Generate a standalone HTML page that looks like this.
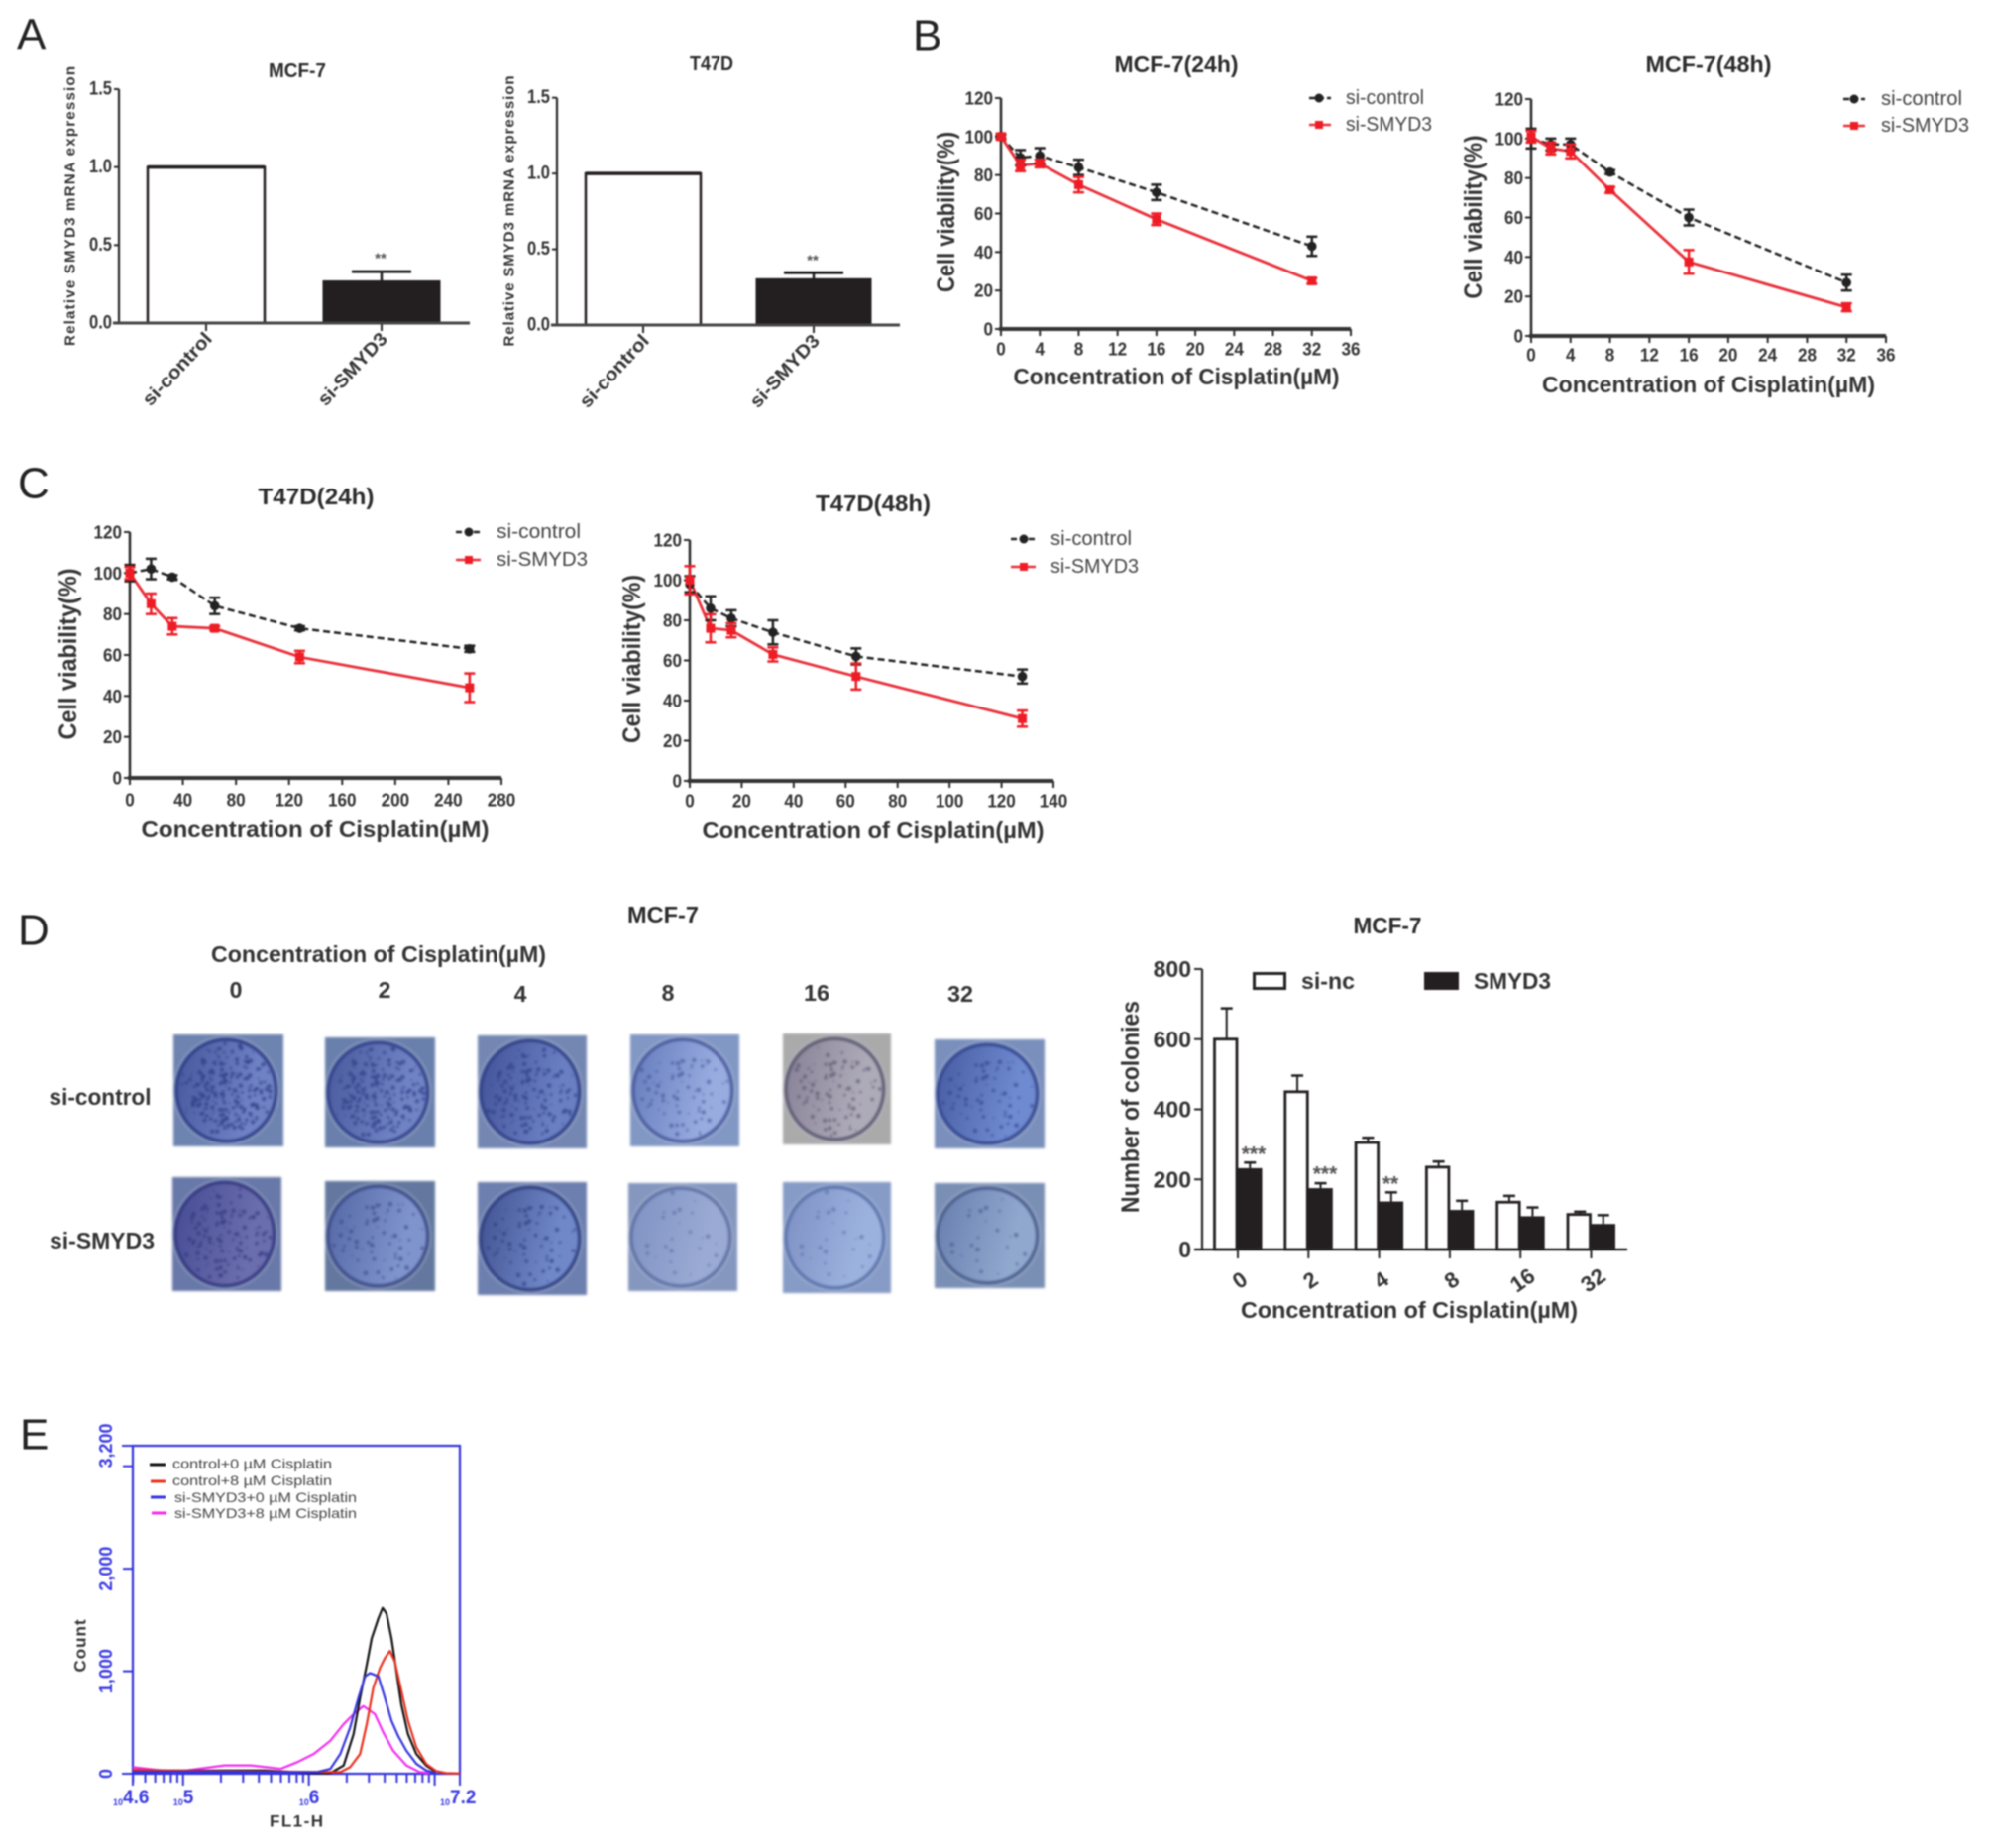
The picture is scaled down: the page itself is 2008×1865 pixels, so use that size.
<!DOCTYPE html>
<html lang="en">
<head>
<meta charset="utf-8">
<title>SMYD3 knockdown and cisplatin sensitivity figure</title>
<style>
html,body{margin:0;padding:0;background:#fff;}
svg{display:block;filter:blur(.8px);}
text{font-family:"Liberation Sans",sans-serif;dominant-baseline:central;fill:#333;}
.b{font-weight:bold;}
.m{text-anchor:middle;}
.e{text-anchor:end;}
.letter{font-size:44px;fill:#222;}
.title{font-size:23px;font-weight:bold;text-anchor:middle;fill:#2b2b2b;}
.axt{font-size:23px;font-weight:bold;text-anchor:middle;fill:#333;}
.ytl{font-size:25px;}
.leg{font-size:20px;fill:#444;}
.star{font-size:15px;fill:#555;text-anchor:middle;font-weight:bold;}
.starbig{font-size:21px;fill:#555;text-anchor:middle;font-weight:bold;}
.flowleg{font-size:14px;fill:#444;}
</style>
</head>
<body>
<svg id="figure" xmlns="http://www.w3.org/2000/svg" width="2008" height="1865" viewBox="0 0 2008 1865">
<rect x="0" y="0" width="2008" height="1865" fill="#fff"/>

<text class="letter" x="17" y="35">A</text>
<text class="letter" x="921" y="36">B</text>
<text class="letter" x="18" y="488">C</text>
<text class="letter" x="18" y="939">D</text>
<text class="letter" x="20" y="1448">E</text>

<!-- Panel A -->
<g id="a1">
  <text class="title" x="300" y="72" textLength="58" lengthAdjust="spacingAndGlyphs" style="font-size:20px">MCF-7</text>
  <text class="b m" font-size="15" transform="translate(71,208) rotate(-90)" textLength="282">Relative SMYD3 mRNA expression</text>
  <text class="star" x="384" y="261">**</text>
</g>
<g id="a2">
  <text class="title" x="718" y="65" textLength="44" lengthAdjust="spacingAndGlyphs" style="font-size:20px">T47D</text>
  <text class="b m" font-size="15" transform="translate(514,213) rotate(-90)" textLength="273">Relative SMYD3 mRNA expression</text>
  <text class="star" x="820" y="263">**</text>
</g>

<!-- Panel B -->
<g id="b1">
  <text class="title" x="1187" y="65" textLength="125" lengthAdjust="spacingAndGlyphs">MCF-7(24h)</text>
  <text class="axt" x="1187" y="380" textLength="329" lengthAdjust="spacingAndGlyphs">Concentration of Cisplatin(µM)</text>
  <text class="axt ytl" transform="translate(955,214) rotate(-90)" textLength="162" lengthAdjust="spacingAndGlyphs">Cell viability(%)</text>
  <g>
    <line x1="1321" y1="99" x2="1343" y2="99" stroke="#222" stroke-width="2.5" stroke-dasharray="6 3"/>
    <circle cx="1331" cy="99" r="4.5" fill="#222"/>
    <text class="leg" x="1358" y="99" textLength="79" lengthAdjust="spacingAndGlyphs">si-control</text>
    <line x1="1321" y1="126" x2="1343" y2="126" stroke="#e8303a" stroke-width="2.5"/>
    <rect x="1327" y="122" width="8" height="8" fill="#ee1c25"/>
    <text class="leg" x="1358" y="126" textLength="87" lengthAdjust="spacingAndGlyphs">si-SMYD3</text>
  </g>
</g>
<g id="b2">
  <text class="title" x="1724" y="65" textLength="127" lengthAdjust="spacingAndGlyphs">MCF-7(48h)</text>
  <text class="axt" x="1724" y="388" textLength="336" lengthAdjust="spacingAndGlyphs">Concentration of Cisplatin(µM)</text>
  <text class="axt ytl" transform="translate(1487,219) rotate(-90)" textLength="165" lengthAdjust="spacingAndGlyphs">Cell viability(%)</text>
  <g>
    <line x1="1860" y1="100" x2="1882" y2="100" stroke="#222" stroke-width="2.5" stroke-dasharray="6 3"/>
    <circle cx="1871" cy="100" r="4.5" fill="#222"/>
    <text class="leg" x="1898" y="100" textLength="82" lengthAdjust="spacingAndGlyphs">si-control</text>
    <line x1="1860" y1="127" x2="1882" y2="127" stroke="#e8303a" stroke-width="2.5"/>
    <rect x="1867" y="123" width="8" height="8" fill="#ee1c25"/>
    <text class="leg" x="1898" y="127" textLength="89" lengthAdjust="spacingAndGlyphs">si-SMYD3</text>
  </g>
</g>

<!-- Panel C -->
<g id="c1">
  <text class="title" x="319" y="501" textLength="117" lengthAdjust="spacingAndGlyphs">T47D(24h)</text>
  <text class="axt" x="318" y="837" textLength="351" lengthAdjust="spacingAndGlyphs">Concentration of Cisplatin(µM)</text>
  <text class="axt ytl" transform="translate(69,660) rotate(-90)" textLength="173" lengthAdjust="spacingAndGlyphs">Cell viability(%)</text>
  <g>
    <line x1="460" y1="537" x2="485" y2="537" stroke="#222" stroke-width="2.5" stroke-dasharray="6 3"/>
    <circle cx="473" cy="537" r="4.5" fill="#222"/>
    <text class="leg" x="501" y="537" textLength="85" lengthAdjust="spacingAndGlyphs">si-control</text>
    <line x1="460" y1="565" x2="485" y2="565" stroke="#e8303a" stroke-width="2.5"/>
    <rect x="469" y="561" width="8" height="8" fill="#ee1c25"/>
    <text class="leg" x="501" y="565" textLength="92" lengthAdjust="spacingAndGlyphs">si-SMYD3</text>
  </g>
</g>
<g id="c2">
  <text class="title" x="881" y="508" textLength="116" lengthAdjust="spacingAndGlyphs">T47D(48h)</text>
  <text class="axt" x="881" y="838" textLength="345" lengthAdjust="spacingAndGlyphs">Concentration of Cisplatin(µM)</text>
  <text class="axt ytl" transform="translate(638,665) rotate(-90)" textLength="170" lengthAdjust="spacingAndGlyphs">Cell viability(%)</text>
  <g>
    <line x1="1020" y1="544" x2="1045" y2="544" stroke="#222" stroke-width="2.5" stroke-dasharray="6 3"/>
    <circle cx="1033" cy="544" r="4.5" fill="#222"/>
    <text class="leg" x="1060" y="544" textLength="82" lengthAdjust="spacingAndGlyphs">si-control</text>
    <line x1="1020" y1="572" x2="1045" y2="572" stroke="#e8303a" stroke-width="2.5"/>
    <rect x="1029" y="568" width="8" height="8" fill="#ee1c25"/>
    <text class="leg" x="1060" y="572" textLength="89" lengthAdjust="spacingAndGlyphs">si-SMYD3</text>
  </g>
</g>

<!-- Panel D: plates -->
<g id="plates">
  <text class="title" x="669" y="923" textLength="72" lengthAdjust="spacingAndGlyphs">MCF-7</text>
  <text class="axt" x="382" y="963" textLength="338" lengthAdjust="spacingAndGlyphs">Concentration of Cisplatin(µM)</text>
  <text class="axt" x="238" y="999">0</text>
  <text class="axt" x="388" y="999">2</text>
  <text class="axt" x="525" y="1003">4</text>
  <text class="axt" x="674" y="1002">8</text>
  <text class="axt" x="824" y="1002" textLength="26" lengthAdjust="spacingAndGlyphs">16</text>
  <text class="axt" x="969" y="1003" textLength="26" lengthAdjust="spacingAndGlyphs">32</text>
  <text class="axt" x="101" y="1107" textLength="103" lengthAdjust="spacingAndGlyphs">si-control</text>
  <text class="axt" x="103" y="1252" textLength="106" lengthAdjust="spacingAndGlyphs">si-SMYD3</text>
</g>

<!-- Panel D: colonies chart -->
<g id="d">
  <text class="title" x="1400" y="934" textLength="69" lengthAdjust="spacingAndGlyphs">MCF-7</text>
  <text class="axt" x="1422" y="1322" textLength="340" lengthAdjust="spacingAndGlyphs">Concentration of Cisplatin(µM)</text>
  <text class="axt ytl" transform="translate(1141,1117) rotate(-90)" textLength="214" lengthAdjust="spacingAndGlyphs">Number of colonies</text>
  <g>
    <rect x="1265.5" y="982.5" width="31" height="15" fill="#fff" stroke="#222" stroke-width="3"/>
    <text class="axt" x="1340" y="990" textLength="54" lengthAdjust="spacingAndGlyphs">si-nc</text>
    <rect x="1437" y="981" width="35" height="18" fill="#231f20"/>
    <text class="axt" x="1526" y="990" textLength="78" lengthAdjust="spacingAndGlyphs">SMYD3</text>
  </g>
  <text class="starbig" x="1265" y="1165">***</text>
  <text class="starbig" x="1337" y="1185">***</text>
  <text class="starbig" x="1403" y="1195">**</text>
</g>

<!-- Panel E -->
<g id="e">
  <text class="b m" x="299" y="1838" font-size="17" textLength="54">FL1-H</text>
  <text class="b m" transform="translate(81,1661) rotate(-90)" font-size="17" textLength="53">Count</text>
  <g>
    <line x1="151" y1="1478" x2="167" y2="1478" stroke="#111" stroke-width="3"/>
    <text class="flowleg" x="174" y="1477" textLength="161" lengthAdjust="spacingAndGlyphs">control+0 µM Cisplatin</text>
    <line x1="152" y1="1495" x2="167" y2="1495" stroke="#e8301c" stroke-width="3"/>
    <text class="flowleg" x="174" y="1494" textLength="161" lengthAdjust="spacingAndGlyphs">control+8 µM Cisplatin</text>
    <line x1="152" y1="1511" x2="167" y2="1511" stroke="#3333dd" stroke-width="3"/>
    <text class="flowleg" x="176" y="1511" textLength="184" lengthAdjust="spacingAndGlyphs">si-SMYD3+0 µM Cisplatin</text>
    <line x1="153" y1="1527" x2="168" y2="1527" stroke="#f02cf0" stroke-width="3"/>
    <text class="flowleg" x="176" y="1527" textLength="184" lengthAdjust="spacingAndGlyphs">si-SMYD3+8 µM Cisplatin</text>
  </g>
</g>
</svg>

<script>
/* ---------- Panel A data ---------- */
const aCategories = ['si-control', 'si-SMYD3'];
const aYTicks = [0, 0.5, 1, 1.5];
const a1Values = [1.0, 0.27];
const a1Errors = [0, 0.06];
const a2Values = [1.0, 0.305];
const a2Errors = [0, 0.04];

/* ---------- Viability data ---------- */
const viabilityYTicks = [0, 20, 40, 60, 80, 100, 120];
const b1Doses = [0, 2, 4, 8, 16, 32];
const b1Control = [100, 89, 90, 84, 71, 43];
const b1ControlErr = [1, 4, 4, 4, 4, 5];
const b1Smyd3 = [100, 85, 86, 75, 57, 25];
const b1Smyd3Err = [1.5, 3, 2, 4, 3, 1.5];
const b1XTicks = [0, 4, 8, 12, 16, 20, 24, 28, 32, 36];

const b2Doses = [0, 2, 4, 8, 16, 32];
const b2Control = [100, 97, 97, 83, 60, 27];
const b2ControlErr = [5, 3, 3, 1, 4, 4];
const b2Smyd3 = [101, 95, 93.5, 74, 37.5, 14.5];
const b2Smyd3Err = [3, 3, 3.5, 1.5, 6, 2];
const b2XTicks = [0, 4, 8, 12, 16, 20, 24, 28, 32, 36];

const c1Doses = [0, 16, 32, 64, 128, 256];
const c1Control = [100, 102, 98, 84, 73, 63];
const c1ControlErr = [4, 5, 1, 4, 1, 1.5];
const c1Smyd3 = [100, 85, 74, 73, 59, 44];
const c1Smyd3Err = [3, 5, 4, 1, 3, 7];
const c1XTicks = [0, 40, 80, 120, 160, 200, 240, 280];

const c2Doses = [0, 8, 16, 32, 64, 128];
const c2Control = [98, 86, 81, 74, 62, 52];
const c2ControlErr = [4, 6, 4, 6, 4, 3.5];
const c2Smyd3 = [100, 76, 75, 63, 52, 31];
const c2Smyd3Err = [7, 7, 3.5, 3.5, 6.5, 4];
const c2XTicks = [0, 20, 40, 60, 80, 100, 120, 140];

/* ---------- Colony data ---------- */
const colonyDoses = ['0', '2', '4', '8', '16', '32'];
const colonyYTicks = [0, 200, 400, 600, 800];
const colonyNc = [600, 450, 305, 235, 135, 100];
const colonyNcErr = [88, 46, 14, 16, 18, 8];
const colonySmyd3 = [232, 175, 137, 113, 95, 73];
const colonySmyd3Err = [16, 14, 26, 26, 25, 25];
const plateColoniesControl = [230, 210, 130, 70, 85, 60];
const plateColoniesSmyd3 = [120, 60, 65, 24, 24, 22];

/* ---------- Flow histogram data (log10 FL1-H, count) ---------- */
const flowYTicks = [0, 1000, 2000, 3000];
const flowYLabelValues = [0, 1000, 2000, 3200];
const flowYLabels = ['0', '1,000', '2,000', '3,200'];
const flowXLabelValues = [4.6, 5, 6, 7.2];
const flowXLabels = ['4.6', '5', '6', '7.2'];
const blackLogX = [4.6, 5.12, 5.65, 6.04, 6.171, 6.276, 6.355, 6.407, 6.46, 6.499, 6.552, 6.586, 6.617, 6.657, 6.696, 6.735, 6.788, 6.854, 6.932, 7.011];
const blackCount = [32, 30, 32, 6, 6, 80, 386, 741, 1063, 1320, 1514, 1617, 1562, 1320, 998, 676, 386, 193, 80, 16];
const redLogX = [4.6, 5.2, 5.8, 6.25, 6.328, 6.407, 6.46, 6.512, 6.565, 6.604, 6.644, 6.683, 6.736, 6.788, 6.854, 6.932, 7.011, 7.09, 7.2];
const redCount = [40, 25, 20, 16, 64, 193, 483, 837, 1031, 1127, 1198, 1095, 805, 515, 258, 97, 26, 6, 3];
const blueLogX = [4.6, 5.2, 5.9, 6.066, 6.171, 6.25, 6.328, 6.394, 6.447, 6.486, 6.552, 6.604, 6.657, 6.709, 6.775, 6.854, 6.932, 7.011];
const blueCount = [20, 20, 15, 16, 48, 193, 451, 741, 950, 982, 950, 741, 515, 370, 225, 97, 32, 6];
const magentaLogX = [4.6, 4.779, 4.936, 5.12, 5.33, 5.54, 5.777, 5.908, 6.039, 6.171, 6.276, 6.355, 6.433, 6.525, 6.591, 6.67, 6.775, 6.88, 6.959];
const magentaCount = [64, 39, 16, 48, 81, 81, 48, 113, 193, 322, 483, 580, 660, 580, 403, 225, 81, 16, 6];

/* ---------- Helpers ---------- */
const NS = 'http://www.w3.org/2000/svg';
function add(parent, tag, name, attrs, txt) {
  const el = document.createElementNS(NS, tag);
  
  
  for (const k in attrs) { el.setAttribute(k, attrs[k]); }
  if (txt !== undefined) { el.textContent = txt; }
  parent.appendChild(el);
  return el;
}
const AXIS = '#2a2a2a';
const RED = '#ee1c25';
const REDLINE = '#e8303a';
const DARK = '#231f20';

function expressionChart(id, cfg, values, errors) {
  const g = document.getElementById(id);
  const y = v => cfg.y0 - v * (cfg.y0 - cfg.yTop) / 1.5;
  aYTicks.forEach(t => {
    add(g, 'line', 'y-tick', {x1: cfg.ax - 5, x2: cfg.ax, y1: y(t), y2: y(t), stroke: AXIS, 'stroke-width': 2});
    add(g, 'text', 'y-tick-label', {x: cfg.ax - 7, y: y(t), 'font-size': 19, 'font-weight': 'bold', 'text-anchor': 'end', textLength: 23, lengthAdjust: 'spacingAndGlyphs'}, t.toFixed(1));
  });
  aCategories.forEach((c, i) => {
    const cx = cfg.cx[i], w = cfg.bw, top = y(values[i]);
    if (errors[i] > 0) {
      const ty = y(values[i] + errors[i]);
      add(g, 'line', 'error-stem', {x1: cx, x2: cx, y1: ty, y2: top, stroke: DARK, 'stroke-width': 2.5});
      add(g, 'line', 'error-cap', {x1: cx - cfg.cap, x2: cx + cfg.cap, y1: ty, y2: ty, stroke: DARK, 'stroke-width': 3});
    }
    add(g, 'rect', 'bar-' + c, {x: cx - w / 2, y: top, width: w, height: cfg.y0 - top, fill: i === 0 ? '#fff' : DARK, stroke: DARK, 'stroke-width': i === 0 ? 2.5 : 1});
    if (i === 0) {
      add(g, 'line', 'bar-top-edge', {x1: cx - w / 2, x2: cx + w / 2, y1: top, y2: top, stroke: DARK, 'stroke-width': 3.5});
    }
    add(g, 'line', 'x-tick', {x1: cx, x2: cx, y1: cfg.y0, y2: cfg.y0 + 8, stroke: AXIS, 'stroke-width': 2});
    add(g, 'text', 'x-tick-label', {transform: 'translate(' + (cx + 3) + ',' + (cfg.y0 + 13) + ') rotate(-47)', 'font-size': 19, 'font-weight': 'bold', 'text-anchor': 'end', textLength: 93, lengthAdjust: 'spacingAndGlyphs'}, c);
  });
  add(g, 'line', 'y-axis', {x1: cfg.ax, x2: cfg.ax, y1: cfg.yTop, y2: cfg.y0, stroke: AXIS, 'stroke-width': 2.2});
  add(g, 'line', 'x-axis', {x1: cfg.ax - 6, x2: cfg.xEnd, y1: cfg.y0, y2: cfg.y0, stroke: '#444', 'stroke-width': 3});
}

function viabilityChart(id, cfg, doses, ctrl, ctrlErr, si, siErr, xTicks) {
  const g = document.getElementById(id);
  const x = v => cfg.x0 + v * (cfg.x1 - cfg.x0) / cfg.xMax;
  const y = v => cfg.y0 - v * (cfg.y0 - cfg.yTop) / 120;
  viabilityYTicks.forEach(t => {
    const s = String(t);
    add(g, 'line', 'y-tick', {x1: cfg.x0 - 6, x2: cfg.x0, y1: y(t), y2: y(t), stroke: AXIS, 'stroke-width': 2});
    add(g, 'text', 'y-tick-label', {x: cfg.x0 - 8, y: y(t), 'font-size': 18.5, 'font-weight': 'bold', 'text-anchor': 'end', textLength: s.length * 9.5, lengthAdjust: 'spacingAndGlyphs'}, s);
  });
  xTicks.forEach(t => {
    const s = String(t);
    add(g, 'line', 'x-tick', {x1: x(t), x2: x(t), y1: cfg.y0, y2: cfg.y0 + 7, stroke: AXIS, 'stroke-width': 2});
    add(g, 'text', 'x-tick-label', {x: x(t), y: cfg.tickY, 'font-size': 18.5, 'font-weight': 'bold', 'text-anchor': 'middle', textLength: s.length * 9.5, lengthAdjust: 'spacingAndGlyphs'}, s);
  });
  add(g, 'line', 'y-axis', {x1: cfg.x0, x2: cfg.x0, y1: cfg.yTop, y2: cfg.y0, stroke: AXIS, 'stroke-width': 2.5});
  add(g, 'line', 'x-axis', {x1: cfg.x0 - 2, x2: cfg.x1, y1: cfg.y0, y2: cfg.y0, stroke: '#333', 'stroke-width': 4});
  const ptsOf = arr => doses.map((d, i) => x(d) + ',' + y(arr[i])).join(' ');
  add(g, 'polyline', 'line-si-control', {points: ptsOf(ctrl), fill: 'none', stroke: '#222', 'stroke-width': 2.5, 'stroke-dasharray': '7 4'});
  add(g, 'polyline', 'line-si-smyd3', {points: ptsOf(si), fill: 'none', stroke: REDLINE, 'stroke-width': 2.8});
  doses.forEach((d, i) => {
    const px = x(d), py = y(ctrl[i]), hi = y(ctrl[i] + ctrlErr[i]), lo = y(ctrl[i] - ctrlErr[i]);
    add(g, 'line', 'error-bar-si-control', {x1: px, x2: px, y1: hi, y2: lo, stroke: '#222', 'stroke-width': 2.5});
    add(g, 'line', 'error-cap-si-control', {x1: px - 5.5, x2: px + 5.5, y1: hi, y2: hi, stroke: '#222', 'stroke-width': 2.5});
    add(g, 'line', 'error-cap-si-control', {x1: px - 5.5, x2: px + 5.5, y1: lo, y2: lo, stroke: '#222', 'stroke-width': 2.5});
    add(g, 'circle', 'point-si-control', {cx: px, cy: py, r: 4.8, fill: '#222'});
  });
  doses.forEach((d, i) => {
    const px = x(d), py = y(si[i]), hi = y(si[i] + siErr[i]), lo = y(si[i] - siErr[i]);
    add(g, 'line', 'error-bar-si-smyd3', {x1: px, x2: px, y1: hi, y2: lo, stroke: RED, 'stroke-width': 2.5});
    add(g, 'line', 'error-cap-si-smyd3', {x1: px - 5.5, x2: px + 5.5, y1: hi, y2: hi, stroke: RED, 'stroke-width': 2.5});
    add(g, 'line', 'error-cap-si-smyd3', {x1: px - 5.5, x2: px + 5.5, y1: lo, y2: lo, stroke: RED, 'stroke-width': 2.5});
    add(g, 'rect', 'point-si-smyd3', {x: px - 4.5, y: py - 4.5, width: 9, height: 9, fill: RED});
  });
}

/* ---------- Draw charts ---------- */
expressionChart('a1', {ax: 120, yTop: 90, y0: 326, xEnd: 474, cx: [208, 385], bw: 118, cap: 30}, a1Values, a1Errors);
expressionChart('a2', {ax: 562, yTop: 98.7, y0: 328, xEnd: 908, cx: [649, 821], bw: 116, cap: 30}, a2Values, a2Errors);
viabilityChart('b1', {x0: 1010, x1: 1363, xMax: 36, y0: 332, yTop: 99, tickY: 352}, b1Doses, b1Control, b1ControlErr, b1Smyd3, b1Smyd3Err, b1XTicks);
viabilityChart('b2', {x0: 1545, x1: 1903, xMax: 36, y0: 339, yTop: 100, tickY: 358}, b2Doses, b2Control, b2ControlErr, b2Smyd3, b2Smyd3Err, b2XTicks);
viabilityChart('c1', {x0: 131, x1: 506, xMax: 280, y0: 785, yTop: 537, tickY: 807}, c1Doses, c1Control, c1ControlErr, c1Smyd3, c1Smyd3Err, c1XTicks);
viabilityChart('c2', {x0: 696, x1: 1063, xMax: 140, y0: 788, yTop: 545, tickY: 808}, c2Doses, c2Control, c2ControlErr, c2Smyd3, c2Smyd3Err, c2XTicks);

/* colony bars */
(function () {
  const g = document.getElementById('d');
  const ax = 1213, y0 = 1261, yTop = 978, x0 = 1249, pitch = 71.3, bw = 24.5;
  const y = v => y0 - v * (y0 - yTop) / 800;
  colonyYTicks.forEach(t => {
    add(g, 'line', 'y-tick', {x1: ax - 8, x2: ax, y1: y(t), y2: y(t), stroke: AXIS, 'stroke-width': 2});
    add(g, 'text', 'y-tick-label', {x: ax - 11, y: y(t), 'font-size': 23, 'font-weight': 'bold', 'text-anchor': 'end'}, String(t));
  });
  colonyDoses.forEach((d, i) => {
    const cx = x0 + i * pitch;
    const wx = cx - bw + 1, bx = cx;
    const wTop = y(colonyNc[i]), bTop = y(colonySmyd3[i]);
    const wCap = y(colonyNc[i] + colonyNcErr[i]), bCap = y(colonySmyd3[i] + colonySmyd3Err[i]);
    add(g, 'line', 'error-stem-si-nc', {x1: wx + bw / 2, x2: wx + bw / 2, y1: wCap, y2: wTop, stroke: DARK, 'stroke-width': 2});
    add(g, 'line', 'error-cap-si-nc', {x1: wx + bw / 2 - 6, x2: wx + bw / 2 + 6, y1: wCap, y2: wCap, stroke: DARK, 'stroke-width': 2.5});
    add(g, 'rect', 'bar-si-nc-' + d, {x: wx, y: wTop, width: bw - 2, height: y0 - wTop, fill: '#fff', stroke: DARK, 'stroke-width': 2.8});
    add(g, 'line', 'error-stem-smyd3', {x1: bx + bw / 2, x2: bx + bw / 2, y1: bCap, y2: bTop, stroke: DARK, 'stroke-width': 2});
    add(g, 'line', 'error-cap-smyd3', {x1: bx + bw / 2 - 6, x2: bx + bw / 2 + 6, y1: bCap, y2: bCap, stroke: DARK, 'stroke-width': 2.5});
    add(g, 'rect', 'bar-smyd3-' + d, {x: bx, y: bTop, width: bw, height: y0 - bTop, fill: DARK});
    add(g, 'line', 'x-tick', {x1: cx, x2: cx, y1: y0, y2: y0 + 9, stroke: AXIS, 'stroke-width': 2});
    add(g, 'text', 'x-tick-label', {transform: 'translate(' + (cx + 2) + ',' + 1292 + ') rotate(-35)', 'font-size': 22, 'font-weight': 'bold', 'text-anchor': 'middle'}, d);
  });
  add(g, 'line', 'y-axis', {x1: ax, x2: ax, y1: yTop, y2: y0, stroke: AXIS, 'stroke-width': 2.2});
  add(g, 'line', 'x-axis', {x1: ax - 8, x2: 1642, y1: y0, y2: y0, stroke: AXIS, 'stroke-width': 2.5});
})();

/* colony plate photographs, approximated with gradients */
(function () {
  const svg = document.getElementById('figure');
  const host = document.getElementById('plates');
  const defs = add(svg, 'defs', 'gradient-defs', {});
  const boxes = [
    [175, 1044, 111, 113], [328, 1047, 111, 111], [482, 1045, 110, 114], [636, 1044, 110, 113], [790, 1043, 109, 112], [943, 1049, 111, 110],
    [174, 1188, 110, 115], [328, 1192, 111, 111], [482, 1193, 110, 114], [634, 1194, 110, 109], [790, 1193, 109, 112], [943, 1194, 111, 106]
  ];
  const tones = [
    ['#6d83b0', '#4a5ba0', '#6f82c4', '#2f3d86'], ['#6a80ac', '#4c5da0', '#7084c4', '#33408a'], ['#7487b2', '#46569c', '#6a7fc2', '#2f3f86'],
    ['#8298c4', '#6a80c0', '#98ace0', '#4a5a9c'], ['#aaaaaa', '#8a8599', '#aeabb9', '#5d5870'], ['#7a8fbc', '#4a60a6', '#6f8ad0', '#33468e'],
    ['#6878a8', '#4a4f96', '#6a6eae', '#34387e'], ['#64789f', '#586caa', '#7f93cc', '#3e4c88'], ['#6c7fae', '#455796', '#7088c8', '#303f80'],
    ['#8597bf', '#8194c4', '#9aaad4', '#6072a4'], ['#869bc6', '#8094c6', '#9cb2de', '#5c74ac'], ['#7a8fb4', '#6c82b2', '#90a8ce', '#4a5e8c']
  ];
  const counts = plateColoniesControl.concat(plateColoniesSmyd3);
  boxes.forEach((b, i) => {
    const t = tones[i], gid = 'wellfill' + i;
    const grad = add(defs, 'linearGradient', 'well-gradient', {id: gid, x1: 0, y1: 0, x2: 1, y2: 0.25});
    add(grad, 'stop', 'gradient-stop', {offset: '0.1', 'stop-color': t[1]});
    add(grad, 'stop', 'gradient-stop', {offset: '0.85', 'stop-color': t[2]});
    const g = add(host, 'g', 'colony-plate-' + i, {style: 'filter:blur(1.1px)'});
    const cx = b[0] + b[2] * 0.48, cy = b[1] + b[3] * 0.5, rx = b[2] * 0.48, ry = b[3] * 0.48;
    add(g, 'rect', 'plate-square', {x: b[0], y: b[1], width: b[2], height: b[3], fill: t[0]});
    add(g, 'ellipse', 'plate-well-rim', {cx: cx, cy: cy, rx: rx, ry: ry, fill: 'none', stroke: '#c4cee4', 'stroke-width': 1.5, opacity: 0.4});
    add(g, 'ellipse', 'plate-well', {cx: cx, cy: cy, rx: rx - 3, ry: ry - 3, fill: 'url(#' + gid + ')', stroke: t[3], 'stroke-width': 3});
    for (let k = 1; k <= counts[i]; k++) {
      const a = k * 2.39996 + Math.sin(k * 12.9898) * 1.3;
      const f = Math.min(0.96, Math.sqrt(k / counts[i]) * (0.88 + 0.14 * Math.sin(k * 78.233)));
      add(g, 'circle', 'colony', {cx: cx + Math.cos(a) * f * (rx - 5), cy: cy + Math.sin(a) * f * (ry - 5), r: 0.9 + (k % 4) * 0.4, fill: t[3], opacity: 0.75});
    }
  });
})();

/* flow histogram */
(function () {
  const g = document.getElementById('e');
  const xL = 134, xR = 464, yT = 1459, y0 = 1790;
  const BLUE = '#3333dd';
  const x = v => xL + (v - 4.6) * (xR - xL) / 2.6;
  const y = v => y0 - v * (y0 - yT) / 3200;
  add(g, 'rect', 'plot-frame', {x: xL, y: yT, width: xR - xL, height: y0 - yT, fill: 'none', stroke: BLUE, 'stroke-width': 2.2});
  add(g, 'line', 'top-axis-extension', {x1: 123, x2: xL, y1: yT, y2: yT, stroke: BLUE, 'stroke-width': 2});
  add(g, 'line', 'bottom-axis-extension', {x1: 123, x2: xL, y1: y0, y2: y0, stroke: BLUE, 'stroke-width': 2});
  flowYTicks.forEach(t => {
    add(g, 'line', 'y-tick', {x1: 124, x2: xL, y1: y(t), y2: y(t), stroke: BLUE, 'stroke-width': 2});
  });
  flowYLabelValues.forEach((t, i) => {
    add(g, 'text', 'y-tick-label', {transform: 'translate(107,' + y(t) + ') rotate(-90)', 'font-size': 18, 'font-weight': 'bold', 'text-anchor': 'middle', style: 'fill:#3a3ae0'}, flowYLabels[i]);
  });
  for (let dec = 4; dec <= 7; dec++) {
    for (let m = 1; m <= 9; m++) {
      const v = dec + Math.log10(m);
      if (v < 4.6 || v > 7.2) { continue; }
      const major = m === 1;
      add(g, 'line', 'x-tick', {x1: x(v), x2: x(v), y1: y0, y2: y0 + (major ? 12 : 9), stroke: BLUE, 'stroke-width': 2});
    }
  }
  add(g, 'line', 'x-tick', {x1: xL, x2: xL, y1: y0, y2: y0 + 12, stroke: BLUE, 'stroke-width': 2});
  add(g, 'line', 'x-tick', {x1: xR, x2: xR, y1: y0, y2: y0 + 12, stroke: BLUE, 'stroke-width': 2});
  flowXLabelValues.forEach((v, i) => {
    const label = flowXLabels[i];
    const t = add(g, 'text', 'x-tick-label', {x: x(v) - (label.length > 1 ? 20 : 10), y: 1814, 'font-weight': 'bold', style: 'fill:#3a3ae0'});
    add(t, 'tspan', 'log-base', {'font-size': 9, dy: 5, style: 'fill:#3a3ae0'}, '10');
    add(t, 'tspan', 'log-exponent', {'font-size': 19, dy: -5, style: 'fill:#3a3ae0'}, label);
  });
  const curve = (name, xs, ys, color) => {
    const pts = xs.map((v, i) => x(v) + ',' + y(ys[i])).join(' ');
    add(g, 'polyline', name, {points: pts, fill: 'none', stroke: color, 'stroke-width': 2.2, 'stroke-linejoin': 'round'});
  };
  curve('curve-si-smyd3-8uM', magentaLogX, magentaCount, '#f02cf0');
  curve('curve-control-0uM', blackLogX, blackCount, '#111');
  curve('curve-control-8uM', redLogX, redCount, '#e8301c');
  curve('curve-si-smyd3-0uM', blueLogX, blueCount, BLUE);
})();
</script>
</body>
</html>
